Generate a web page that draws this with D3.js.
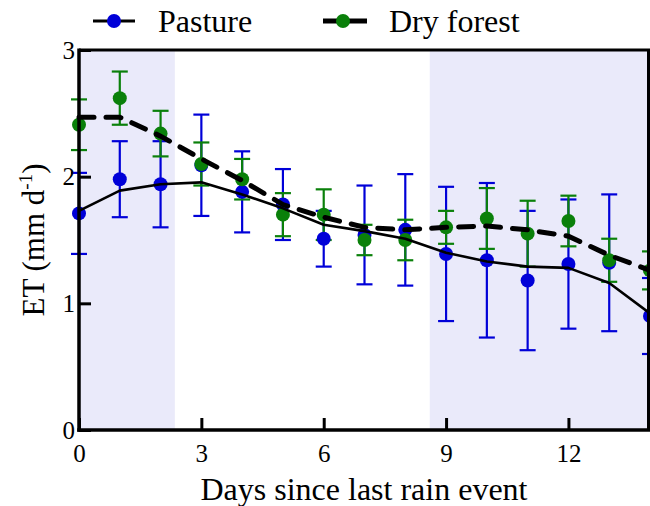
<!DOCTYPE html>
<html>
<head>
<meta charset="utf-8">
<script src="https://cdn.jsdelivr.net/npm/d3@7"></script>
<style>
  html, body { margin: 0; padding: 0; background: #ffffff; }
  svg { display: block; }
  text { font-family: "Liberation Serif", "Times New Roman", serif; fill: #000; }
</style>
</head>
<body>
<div id="chart"></div>
<script>
// Days since the last rain event
const days = [0, 1, 2, 3, 4, 5, 6, 7, 8, 9, 10, 11, 12, 13, 14];

// Pasture: daily mean ET, error half-width and smoothed trend (mm d-1)
const pastureMean  = [1.71, 1.98, 1.94, 2.09, 1.88, 1.78, 1.51, 1.54, 1.58, 1.39, 1.34, 1.18, 1.31, 1.32, 0.90];
const pastureErr   = [0.32, 0.30, 0.34, 0.40, 0.32, 0.28, 0.22, 0.39, 0.44, 0.53, 0.61, 0.55, 0.51, 0.54, 0.30];
const pastureTrend = [1.73, 1.89, 1.94, 1.955, 1.86, 1.75, 1.62, 1.57, 1.51, 1.40, 1.33, 1.29, 1.28, 1.16, 0.92];

// Dry forest: daily mean ET, error half-width and smoothed trend (mm d-1)
const forestMean  = [2.41, 2.62, 2.34, 2.10, 1.98, 1.70, 1.70, 1.50, 1.50, 1.60, 1.67, 1.55, 1.65, 1.34, 1.26];
const forestErr   = [0.20, 0.21, 0.18, 0.17, 0.16, 0.17, 0.20, 0.12, 0.16, 0.13, 0.24, 0.26, 0.20, 0.17, 0.15];
const forestTrend = [2.47, 2.47, 2.32, 2.14, 1.97, 1.78, 1.68, 1.60, 1.58, 1.60, 1.61, 1.58, 1.53, 1.38, 1.26];

// Shaded periods (in days)
const shadedPeriods = [[0, 2.35], [8.6, 14]];

// Axis ticks
const xTicks = [0, 3, 6, 9, 12];
const yTicks = [0, 1, 2, 3];

const seriesNames = ["Pasture", "Dry forest"];

const W = 650, H = 506;
const mLeft = 79, mRight = 650, mTop = 50, mBottom = 430;

const x = d3.scaleLinear().domain([0, 14]).range([mLeft, mRight]);
const y = d3.scaleLinear().domain([0, 3]).range([mBottom, mTop]);

const blue = "#0000d8";
const green = "#0a800a";
const shade = "#eaeafa";

const svg = d3.select("#chart").append("svg")
  .attr("width", W).attr("height", H);

// Shaded periods
svg.append("g").selectAll("rect").data(shadedPeriods).join("rect")
  .attr("x", d => x(d[0]))
  .attr("y", y(3))
  .attr("width", d => Math.min(x(d[1]), mRight - 1) - x(d[0]))
  .attr("height", y(0) - y(3))
  .attr("fill", shade);

// Error bars for one series
function errorBars(mean, err, color) {
  const g = svg.append("g").attr("stroke", color).attr("stroke-width", 2.2).attr("fill", "none");
  const rows = days.map((d, i) => ({ d, lo: mean[i] - err[i], hi: mean[i] + err[i] }));
  g.selectAll("line.v").data(rows).join("line").attr("class", "v")
    .attr("x1", r => x(r.d)).attr("x2", r => x(r.d))
    .attr("y1", r => y(r.lo)).attr("y2", r => y(r.hi));
  g.selectAll("line.t").data(rows).join("line").attr("class", "t")
    .attr("x1", r => x(r.d) - 8).attr("x2", r => x(r.d) + 8)
    .attr("y1", r => y(r.hi)).attr("y2", r => y(r.hi));
  g.selectAll("line.b").data(rows).join("line").attr("class", "b")
    .attr("x1", r => x(r.d) - 8).attr("x2", r => x(r.d) + 8)
    .attr("y1", r => y(r.lo)).attr("y2", r => y(r.lo));
}

function points(mean, color) {
  svg.append("g").selectAll("circle").data(days).join("circle")
    .attr("cx", d => x(d))
    .attr("cy", (d, i) => y(mean[i]))
    .attr("r", 7)
    .attr("fill", color);
}

errorBars(pastureMean, pastureErr, blue);
errorBars(forestMean, forestErr, green);
points(pastureMean, blue);
points(forestMean, green);

// Trend lines
const line = d3.line().x(d => x(d[0])).y(d => y(d[1]));
svg.append("path")
  .datum(days.map((d, i) => [d, pastureTrend[i]]))
  .attr("d", line)
  .attr("fill", "none").attr("stroke", "#000").attr("stroke-width", 2.6)
  .attr("stroke-linejoin", "round");
svg.append("path")
  .datum(days.map((d, i) => [d, forestTrend[i]]))
  .attr("d", line)
  .attr("fill", "none").attr("stroke", "#000").attr("stroke-width", 5)
  .attr("stroke-dasharray", "15 12").attr("stroke-linecap", "round");

// Frame: top and right
svg.append("path")
  .attr("d", `M${mLeft},${mTop}H${mRight - 1.5}V${mBottom}`)
  .attr("fill", "none").attr("stroke", "#000").attr("stroke-width", 3);

// Axes (ticks pointing inward)
const xAxis = d3.axisBottom(x).tickValues(xTicks).tickFormat(d3.format("d"))
  .tickSizeInner(-12).tickSizeOuter(0).tickPadding(14);
const gx = svg.append("g").attr("transform", `translate(0,${mBottom})`).call(xAxis);
gx.select(".domain").attr("stroke-width", 3.5).attr("d", `M${mLeft - 1.75},0H${mRight}`);
gx.selectAll(".tick line").attr("stroke-width", 3);
gx.selectAll(".tick text").attr("font-size", 25).attr("dy", "0.71em");

const yAxis = d3.axisLeft(y).tickValues(yTicks).tickFormat(d3.format("d"))
  .tickSizeInner(-12).tickSizeOuter(0).tickPadding(4);
const gy = svg.append("g").attr("transform", `translate(${mLeft},0)`).call(yAxis);
gy.select(".domain").attr("stroke-width", 3.5).attr("d", `M0,${mTop - 1.5}V${mBottom + 1.75}`);
gy.selectAll(".tick line").attr("stroke-width", 3);
gy.selectAll(".tick text").attr("font-size", 25);

// Axis titles
svg.append("text")
  .attr("x", 364).attr("y", 500)
  .attr("text-anchor", "middle").attr("font-size", 32)
  .text("Days since last rain event");

const yl = svg.append("text")
  .attr("transform", `translate(44,${(mTop + mBottom) / 2}) rotate(-90)`)
  .attr("text-anchor", "middle").attr("font-size", 31);
yl.append("tspan").text("ET (mm d");
yl.append("tspan").attr("font-size", 19).attr("dy", -12).text("-1");
yl.append("tspan").attr("dy", 12).text(")");

// Legend
const legend = [
  { name: seriesNames[0], color: blue, x0: 93, x1: 135, cx: 114, width: 3, tx: 158 },
  { name: seriesNames[1], color: green, x0: 323, x1: 367, cx: 343, width: 5, tx: 389 }
];
const lg = svg.append("g");
legend.forEach(l => {
  lg.append("line").attr("x1", l.x0).attr("x2", l.x1).attr("y1", 21).attr("y2", 21)
    .attr("stroke", "#000").attr("stroke-width", l.width);
  lg.append("circle").attr("cx", l.cx).attr("cy", 21).attr("r", 7).attr("fill", l.color);
  lg.append("text").attr("x", l.tx).attr("y", 32).attr("font-size", 32).text(l.name);
});
</script>
</body>
</html>
